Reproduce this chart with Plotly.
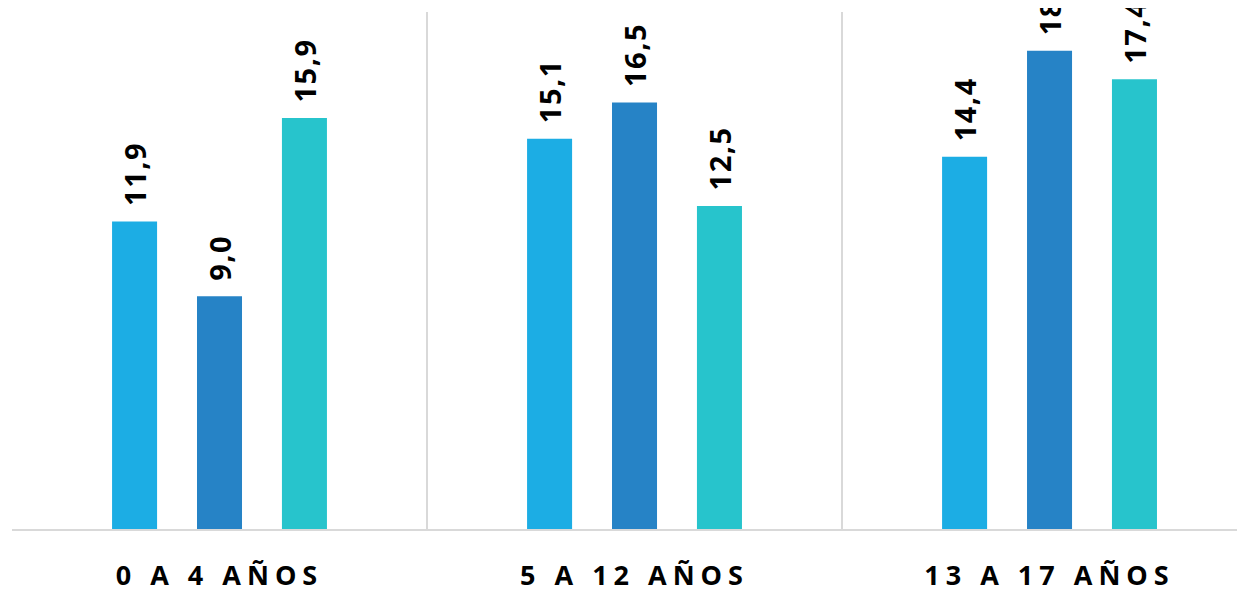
import plotly.graph_objects as go

categories = ["0 A 4 AÑOS", "5 A 12 AÑOS", "13 A 17 AÑOS"]
series_a = [11.9, 15.1, 14.4]
series_b = [9.0, 16.5, 18.5]
series_c = [15.9, 12.5, 17.4]
colors = ["#1CADE4", "#2683C6", "#27C4CC"]

def fmt(v):
    return f"{v:.1f}".replace(".", ",")

fig = go.Figure()
for vals, col in zip([series_a, series_b, series_c], colors):
    fig.add_trace(go.Bar(x=categories, y=vals, marker=dict(color=col, line=dict(width=0)),
                         showlegend=False, hoverinfo="skip"))

shifts = [-85, 0, 85]
for vals, sh in zip([series_a, series_b, series_c], shifts):
    for c, v in zip(categories, vals):
        fig.add_annotation(x=c, y=v,
                           text='<span style="letter-spacing:1.5px">' + fmt(v) + '</span>',
                           showarrow=False, textangle=-90,
                           xshift=sh, yshift=13, yanchor="bottom", xanchor="center",
                           font=dict(family="Open Sans", size=29, color="#000000", weight="bold"))

ticktext = ['<span style="letter-spacing:6px">' + c + '</span>' for c in categories]

fig.update_layout(
    width=1237, height=584,
    margin=dict(l=4, r=0, t=4, b=63, autoexpand=False),
    paper_bgcolor="white", plot_bgcolor="white",
    barmode="group", bargap=0.386, bargroupgap=0.47,
    font=dict(family="Open Sans"),
    xaxis=dict(range=[-0.5, 2.471], tickson="boundaries", showgrid=True, automargin=False,
               gridcolor="#D9D9D9", gridwidth=1.5, showline=True, linecolor="#D9D9D9",
               linewidth=2, ticks="", ticklabelstandoff=22,
               tickmode="array", tickvals=categories, ticktext=ticktext,
               tickfont=dict(family="Open Sans", size=27, color="#000000", weight="bold")),
    yaxis=dict(range=[0, 20], showgrid=False, showticklabels=False, zeroline=False,
               showline=False, automargin=False),
)
fig.write_html("out.html")
